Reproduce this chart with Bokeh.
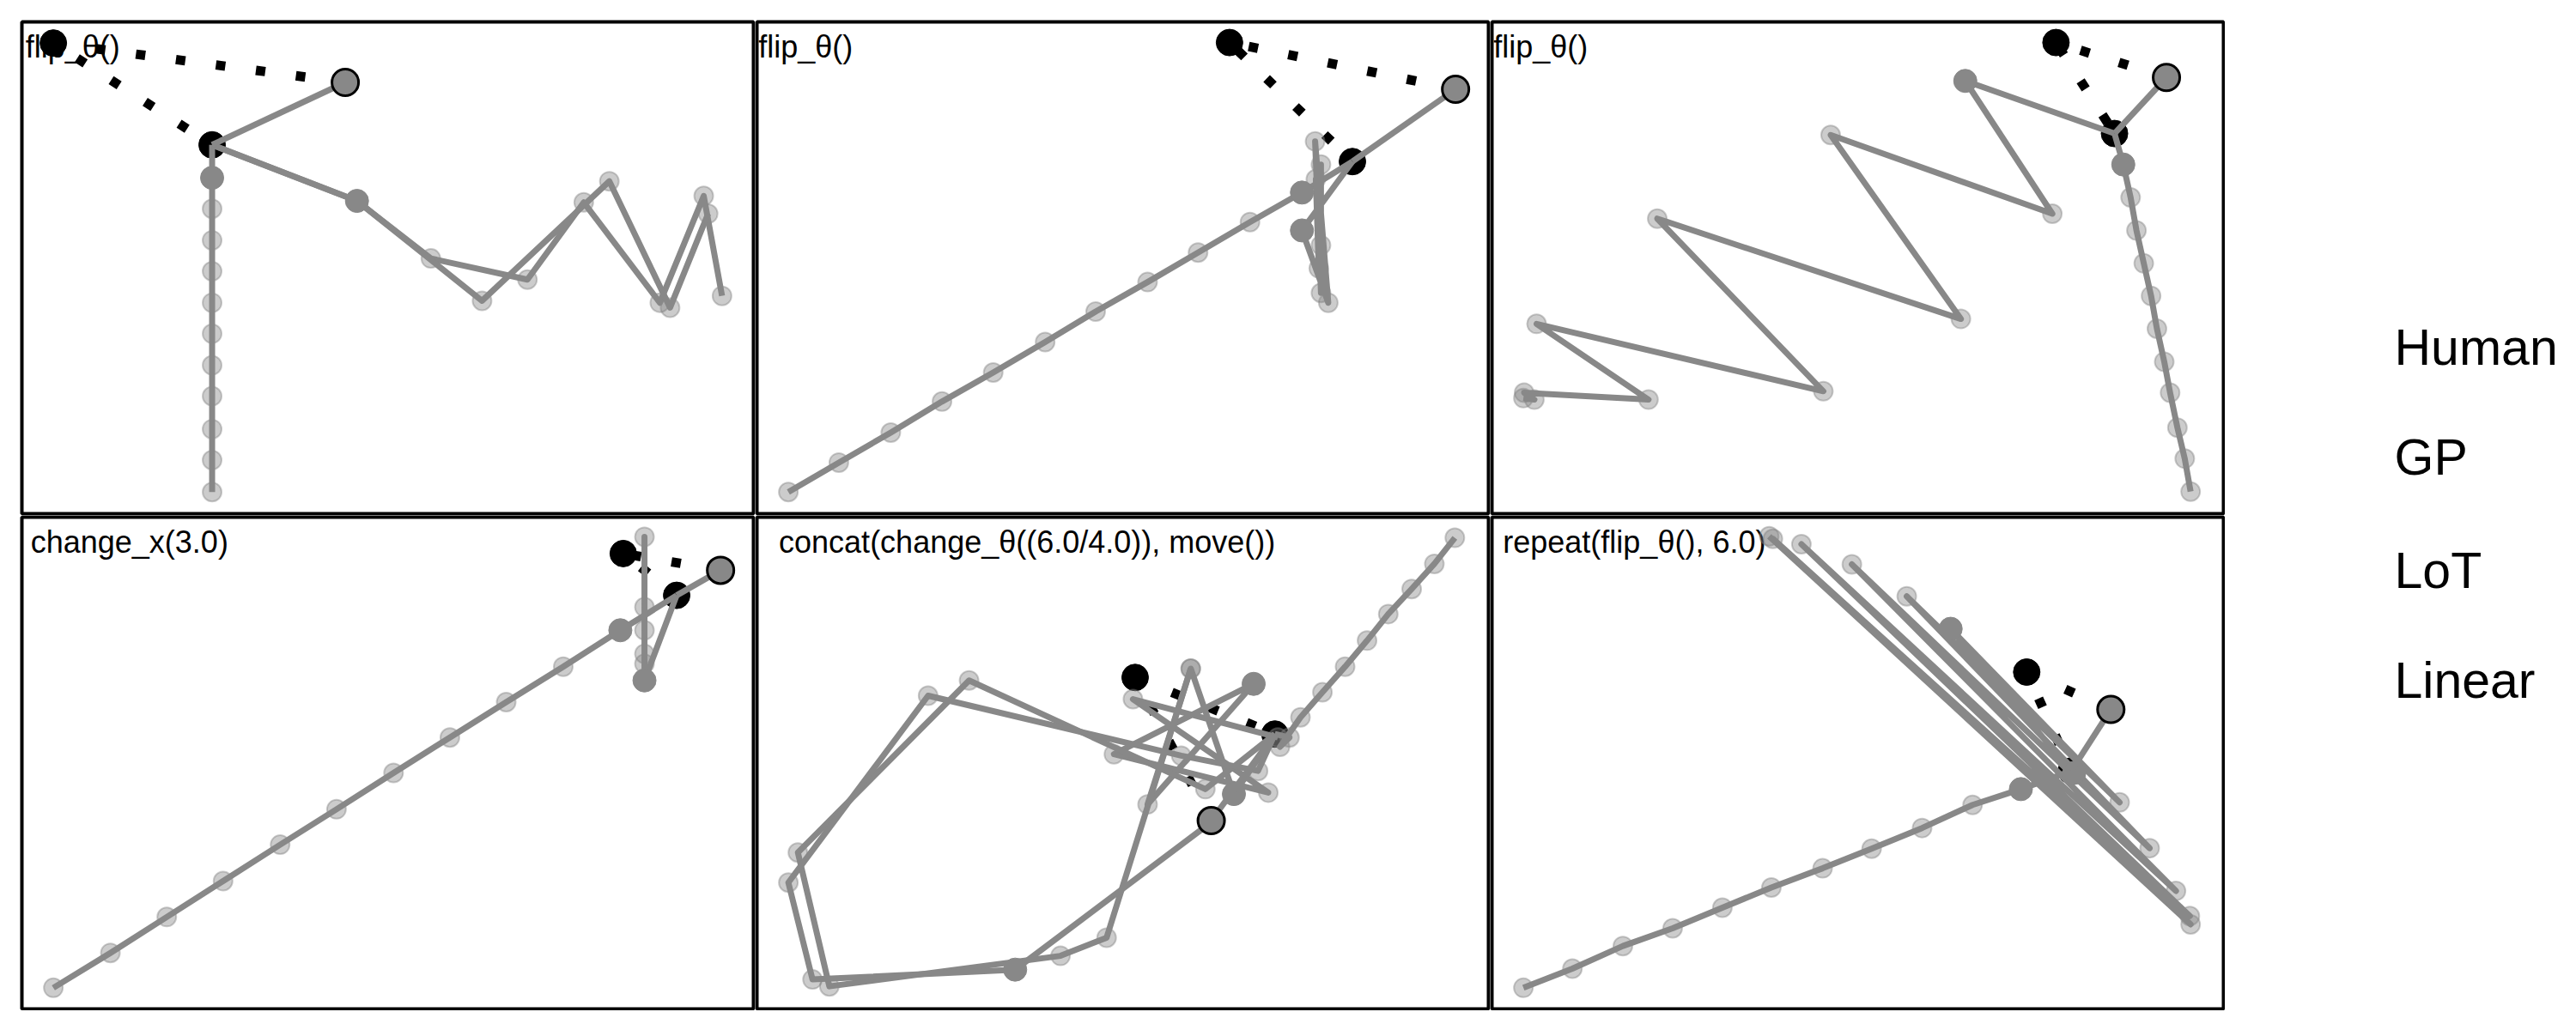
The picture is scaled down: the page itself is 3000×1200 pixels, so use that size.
from bokeh.plotting import figure
from bokeh.layouts import gridplot, row
from bokeh.models import Range1d
from bokeh.core.properties import value
from bokeh.embed import file_html
from bokeh.resources import INLINE

# ---------------- data (units: percent of each panel's width / height) ----------------
panel_titles = ["flip_θ()", "flip_θ()", "flip_θ()",
                "change_x(3.0)", "concat(change_θ((6.0/4.0)), move())", "repeat(flip_θ(), 6.0)"]
legend_labels = ["Human", "GP", "LoT", "Linear"]

# panel 1
p1_observed = [(4.3, 95.7), (26.0, 75.0)]
p1_human = (44.2, 87.7)
p1_model_a = [(26.0, 68.3), (26.0, 62.0), (26.0, 55.6), (26.0, 49.3), (26.0, 42.9), (26.0, 36.6),
              (26.0, 30.2), (26.0, 23.9), (26.0, 17.2), (26.0, 10.9), (26.0, 4.4)]
p1_model_b = [(45.8, 63.6), (55.9, 51.9), (69.1, 47.6), (76.8, 63.3), (87.2, 42.9), (93.2, 64.6), (95.7, 44.3)]
p1_model_c = [(45.8, 63.6), (62.9, 43.3), (80.3, 67.6), (88.6, 41.9), (93.8, 61.0)]
p1_first = [(26.0, 68.3), (45.8, 63.6)]

# panel 2
p2_observed = [(64.6, 95.8), (81.4, 71.6)]
p2_human = (95.5, 86.3)
p2_model_a = [(74.5, 65.3), (67.4, 59.3), (60.3, 53.1), (53.4, 47.1), (46.3, 41.1), (39.4, 34.9),
              (32.3, 28.7), (25.3, 22.8), (18.3, 16.5), (11.2, 10.4), (4.3, 4.4)]
p2_model_b = [(74.5, 57.6), (78.1, 42.9), (76.3, 75.7), (77.1, 44.9), (77.1, 71.0), (76.8, 49.9),
              (76.4, 68.0), (77.1, 54.6)]
p2_first = [(74.5, 65.3), (74.5, 57.6)]

# panel 3
p3_observed = [(77.1, 95.8), (85.1, 77.3)]
p3_human = (92.2, 88.7)
p3_model_a = [(86.3, 71.0), (87.3, 64.3), (88.1, 57.6), (89.1, 50.9), (90.1, 44.3), (90.9, 37.6),
              (91.9, 30.9), (92.7, 24.6), (93.7, 17.5), (94.7, 11.2), (95.5, 4.5)]
p3_model_b = [(64.7, 88.0), (76.6, 61.0), (46.3, 77.0), (64.1, 39.6), (22.6, 60.0), (45.3, 24.9),
              (6.1, 38.6), (21.4, 23.2), (4.4, 24.6), (5.8, 23.2), (4.3, 23.5)]
p3_first = [(86.3, 71.0), (64.7, 88.0)]

# panel 4
p4_observed = [(82.2, 92.6), (89.5, 84.1)]
p4_human = (95.5, 89.2)
p4_model_a = [(81.8, 77.0), (74.0, 69.6), (66.2, 62.4), (58.5, 55.2), (50.8, 48.0), (43.0, 40.6),
              (35.3, 33.4), (27.5, 26.0), (19.8, 18.7), (12.1, 11.4), (4.3, 4.3)]
p4_model_b = [(85.1, 66.8), (85.1, 96.0), (85.1, 70.2), (85.1, 81.7), (85.1, 72.2), (85.1, 77.0)]
p4_first = [(81.8, 77.0), (85.1, 66.8)]

# panel 5
p5_observed = [(51.7, 67.4), (70.8, 55.9)]
p5_human = (62.1, 38.3)
p5_model_a = [(72.8, 55.2), (71.5, 53.3), (74.3, 59.3), (77.3, 64.4), (80.4, 69.6), (83.4, 74.9),
              (86.3, 80.3), (89.5, 85.4), (92.6, 90.5), (95.4, 95.8)]
p5_model_b = [(65.2, 43.7), (59.3, 69.2), (53.4, 41.6), (67.9, 66.1), (48.8, 51.8), (69.9, 44.0),
              (51.4, 63.0), (71.2, 55.2)]
p5_model_c = [(61.3, 44.7), (29.0, 66.8), (5.6, 31.8), (9.9, 4.6), (41.5, 10.8), (47.8, 14.5), (59.3, 69.2)]
p5_model_d = [(68.5, 48.4), (58.0, 51.5), (23.4, 63.7), (4.3, 25.7), (7.6, 6.0), (35.3, 8.0), (62.3, 38.2)]
p5_first = [(65.2, 43.7), (35.3, 8.0), (67.9, 66.1)]

# panel 6
p6_observed = [(73.1, 68.5), (79.2, 48.4)]
p6_human = (84.6, 60.9)
p6_model_a = [(72.3, 44.7), (65.7, 41.5), (58.8, 36.8), (51.9, 32.6), (45.2, 28.6), (38.2, 24.7),
              (31.5, 20.6), (24.7, 16.4), (17.9, 12.8), (11.0, 8.2), (4.3, 4.3)]
p6_model_b = [(62.7, 77.3), (85.8, 42.0), (56.7, 83.9), (89.9, 32.7), (49.2, 90.4), (93.5, 24.0),
              (42.3, 94.5), (95.4, 18.9), (38.4, 95.6), (95.5, 17.2), (37.9, 96.1)]
p6_first = [(72.3, 44.7), (62.7, 77.3), (79.6, 48.0)]

panels = [
    dict(observed=p1_observed, human=p1_human, models=[p1_model_a, p1_model_b, p1_model_c], first=p1_first),
    dict(observed=p2_observed, human=p2_human, models=[p2_model_a, p2_model_b], first=p2_first),
    dict(observed=p3_observed, human=p3_human, models=[p3_model_a, p3_model_b], first=p3_first),
    dict(observed=p4_observed, human=p4_human, models=[p4_model_a, p4_model_b], first=p4_first),
    dict(observed=p5_observed, human=p5_human, models=[p5_model_a, p5_model_b, p5_model_c, p5_model_d], first=p5_first),
    dict(observed=p6_observed, human=p6_human, models=[p6_model_a, p6_model_b], first=p6_first),
]

# ---------------- styles ----------------
GRAY = "#888888"
FONT = "Liberation Sans"
title_x = [0.5, 0.2, 0.2, 1.2, 3.0, 1.5]
TITLE_Y = 95.0


def xs(pts):
    return [p[0] for p in pts]


def ys(pts):
    return [p[1] for p in pts]


def make_panel(i, d):
    p = figure(width=856, height=577, x_range=Range1d(0, 100), y_range=Range1d(0, 100),
               output_backend="svg", toolbar_location=None,
               x_axis_location=None, y_axis_location=None, min_border=2)
    p.grid.visible = False
    p.outline_line_color = "black"
    p.outline_line_width = 4
    p.outline_line_alpha = 1.0
    p.background_fill_color = "white"
    p.border_fill_color = "white"

    p.text(x=[title_x[i]], y=[TITLE_Y], text=[panel_titles[i]], text_font=value(FONT),
           text_font_size="36px", text_color="black", text_baseline="alphabetic", text_align="left")

    a, b = d["observed"]
    h = d["human"]
    # dotted human path
    p.line(x=[h[0], a[0], b[0]], y=[h[1], a[1], b[1]], line_color="black", line_width=11,
           line_dash="11 36", line_cap="butt")
    p.scatter(x=xs(d["observed"]), y=ys(d["observed"]), size=31, fill_color="black", line_color="black")

    for m in d["models"]:
        p.scatter(x=xs(m), y=ys(m), size=22, fill_color="gray", fill_alpha=0.4,
                  line_color="gray", line_alpha=0.4, line_width=2)
    for m in d["models"]:
        p.line(x=[b[0]] + xs(m), y=[b[1]] + ys(m), line_color=GRAY, line_width=7, line_join="round")
    p.scatter(x=xs(d["first"]), y=ys(d["first"]), size=27, fill_color=GRAY, line_color=GRAY)

    p.line(x=[b[0], h[0]], y=[b[1], h[1]], line_color=GRAY, line_width=7)
    p.scatter(x=[h[0]], y=[h[1]], size=31, fill_color=GRAY, line_color="black", line_width=3)
    return p


plots = [make_panel(i, d) for i, d in enumerate(panels)]
grid = gridplot([plots[0:3], plots[3:6]], toolbar_location=None)
grid.margin = (23, 0, 0, 23)

leg = figure(width=409, height=850, x_range=Range1d(0, 409), y_range=Range1d(850, 0),
             output_backend="svg", toolbar_location=None,
             x_axis_location=None, y_axis_location=None, min_border=0)
leg.grid.visible = False
leg.outline_line_color = None
leg.text(x=[197] * 4, y=[404, 532, 664, 792], text=legend_labels, text_font=value(FONT),
         text_font_size="59px", text_color="black", text_baseline="alphabetic", text_align="left")

layout = row(grid, leg)
open("out.html", "w").write(file_html(layout, INLINE))
